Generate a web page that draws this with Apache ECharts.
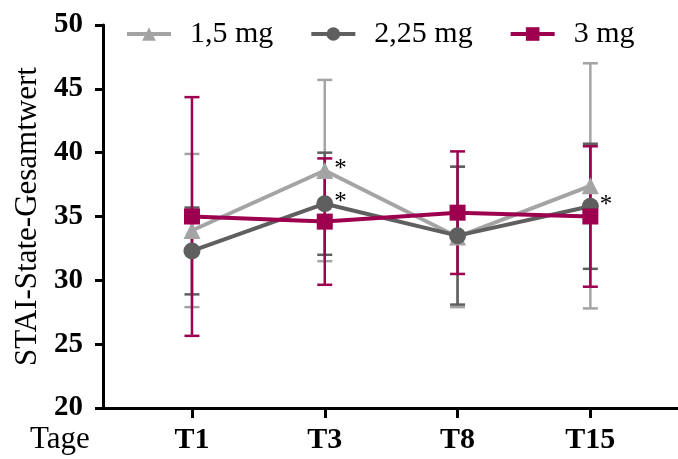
<!DOCTYPE html>
<html><head><meta charset="utf-8">
<script src="https://cdn.jsdelivr.net/npm/echarts@6/dist/echarts.min.js"></script>
<style>html,body{margin:0;padding:0;background:#fff}#c{width:678px;height:459px}</style>
</head><body><div id="c"></div>
<script>
const categories = ['T1', 'T3', 'T8', 'T15'];
const seriesNames = ['1,5 mg', '2,25 mg', '3 mg'];
const mean15 = [33.9, 38.6, 33.4, 37.4];
const sd15 = [6.0, 7.1, 5.5, 9.6];
const mean225 = [32.3, 36.0, 33.5, 35.8];
const sd225 = [3.4, 4.0, 5.4, 4.9];
const mean3 = [35.0, 34.6, 35.3, 35.0];
const sd3 = [9.35, 4.95, 4.8, 5.5];
const sig15 = [0, 1, 0, 0];
const sig225 = [0, 1, 0, 1];
const sig3 = [0, 0, 0, 0];
const yTicks = [20, 25, 30, 35, 40, 45, 50];

const colors = ['#a4a4a4', '#5f5f5f', '#9c004f'];
const symbols = ['triangle', 'circle', 'rect'];
const means = [mean15, mean225, mean3];
const sds = [sd15, sd225, sd3];
const sigs = [sig15, sig225, sig3];
const serif = 'Liberation Serif';

function errSeries(k) {
  return {
    type: 'custom', name: 'err-' + seriesNames[k], z: 2, silent: true,
    data: means[k].map((m, i) => [i, m - sds[k][i], m + sds[k][i]]),
    encode: { x: 0, y: [1, 2] },
    renderItem: function (params, api) {
      const x = api.value(0);
      const lo = api.coord([x, api.value(1)]);
      const hi = api.coord([x, api.value(2)]);
      const hw = 7.5;
      const st = { stroke: colors[k], lineWidth: 2.5 };
      return { type: 'group', children: [
        { type: 'line', shape: { x1: hi[0], y1: hi[1], x2: lo[0], y2: lo[1] }, style: st },
        { type: 'line', shape: { x1: hi[0] - hw, y1: hi[1], x2: hi[0] + hw, y2: hi[1] }, style: st },
        { type: 'line', shape: { x1: lo[0] - hw, y1: lo[1], x2: lo[0] + hw, y2: lo[1] }, style: st }
      ]};
    }
  };
}
function lineSeries(k) {
  return {
    type: 'line', name: seriesNames[k], z: 3,
    symbol: symbols[k], symbolSize: k === 2 ? 16 : 17,
    itemStyle: { color: colors[k] },
    lineStyle: { color: colors[k], width: 4 },
    data: means[k].map((m, i) => ({
      value: [i, m],
      label: sigs[k][i] ? { show: true, formatter: '*', position: 'right', distance: 1, offset: [0, -1],
        color: '#000', fontSize: 25, fontFamily: serif } : { show: false }
    }))
  };
}

const chart = echarts.init(document.getElementById('c'));
chart.setOption({
  animation: false,
  grid: { left: 103, right: 0, top: 25, bottom: 51 },
  legend: {
    data: seriesNames, left: 120, top: 14, itemWidth: 44, itemHeight: 17, itemGap: 36,
    lineStyle: { width: 4 },
    textStyle: { fontFamily: serif, fontSize: 30, color: '#000', padding: [0, 0, 0, 14] }
  },
  xAxis: {
    type: 'value', min: -0.67, max: 3.66,
    axisLine: { show: true, onZero: false, lineStyle: { color: '#000', width: 3 } },
    axisTick: { show: true, length: 10, lineStyle: { color: '#000', width: 3 }, customValues: [0, 1, 2, 3] },
    axisLabel: { customValues: [0, 1, 2, 3], formatter: v => categories[Math.round(v)], margin: 17,
      fontFamily: serif, fontWeight: 'bold', fontSize: 30, color: '#000' },
    splitLine: { show: false }
  },
  yAxis: {
    type: 'value', min: 20, max: 50, interval: 5,
    name: 'STAI-State-Gesamtwert', nameLocation: 'middle', nameGap: 58,
    nameTextStyle: { fontFamily: serif, fontSize: 31, color: '#000' },
    axisLine: { show: true, onZero: false, lineStyle: { color: '#000', width: 3 } },
    axisTick: { show: true, length: 8, lineStyle: { color: '#000', width: 3 } },
    axisLabel: { margin: 20, fontFamily: serif, fontWeight: 'bold', fontSize: 29, color: '#000' },
    splitLine: { show: false }
  },
  graphic: [{ type: 'text', left: 30, top: 424, style: { text: 'Tage', fontFamily: serif, fontSize: 31, fill: '#000' } }],
  series: [errSeries(0), errSeries(1), errSeries(2), lineSeries(0), lineSeries(1), lineSeries(2)]
});
</script></body></html>
